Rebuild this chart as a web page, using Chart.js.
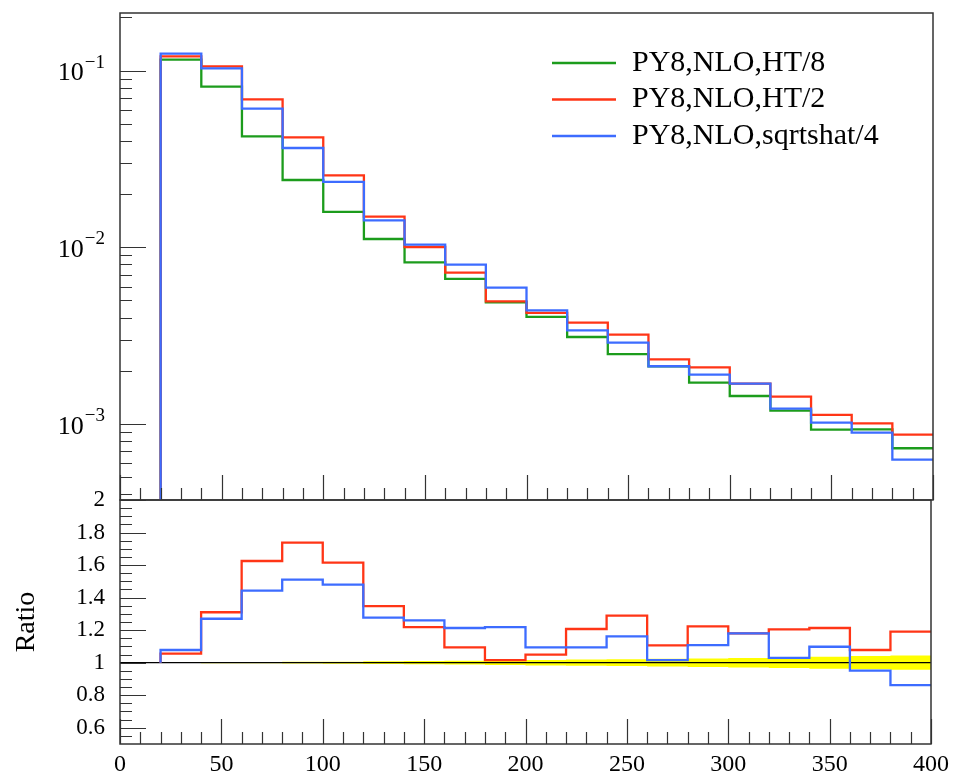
<!DOCTYPE html>
<html>
<head>
<meta charset="utf-8">
<script src="https://cdn.jsdelivr.net/npm/chart.js@4.4.0/dist/chart.umd.min.js"></script>
<style>
    body { margin: 0; background: #fff; }
    #quadro { position: relative; width: 955px; height: 780px; }
    canvas { position: absolute; left: 0; top: 0; }
</style>
</head>
<body>
<div id="quadro">
    <canvas id="razao" width="955" height="780"></canvas>
    <canvas id="principal" width="955" height="780"></canvas>
</div>
<script>
// Bordas dos bins (20 a 400, largura 20)
const binEdges = [20, 40, 60, 80, 100, 120, 140, 160, 180, 200, 220, 240, 260, 280, 300, 320, 340, 360, 380, 400];

const seriesLabels = ['PY8,NLO,HT/8', 'PY8,NLO,HT/2', 'PY8,NLO,sqrtshat/4'];

// Painel de cima (escala log)
const ht8 = [0.1154, 0.0812, 0.04245, 0.02404, 0.01585, 0.01114, 0.00822, 0.00662, 0.00488, 0.00404,
    0.003107, 0.002489, 0.002123, 0.001714, 0.00144, 0.001191, 0.000929, 0.000933, 0.000729];
const ht2 = [0.1205, 0.1057, 0.0688, 0.04194, 0.02556, 0.01493, 0.01004, 0.00719, 0.00494, 0.00425,
    0.003751, 0.003206, 0.002323, 0.002094, 0.001694, 0.001429, 0.001125, 0.001009, 0.000871];
const sqrts4 = [0.1248, 0.103, 0.061, 0.03648, 0.02344, 0.01422, 0.01035, 0.00798, 0.00592, 0.0044,
    0.003391, 0.002891, 0.002123, 0.001905, 0.001694, 0.001222, 0.001019, 0.000894, 0.000629];

// Painel da razao (referencia: HT/8)
const ratioHt2 = [1.055, 1.31, 1.625, 1.738, 1.615, 1.348, 1.219, 1.094, 1.016, 1.049,
    1.207, 1.289, 1.106, 1.223, 1.18, 1.205, 1.213, 1.078, 1.191];
const ratioSqrts4 = [1.078, 1.27, 1.443, 1.51, 1.48, 1.277, 1.26, 1.213, 1.219, 1.094,
    1.094, 1.162, 1.016, 1.108, 1.18, 1.029, 1.098, 0.951, 0.862];
const bandHalf = [0.002, 0.003, 0.004, 0.005, 0.006, 0.008, 0.01, 0.012, 0.014, 0.017,
    0.019, 0.021, 0.024, 0.026, 0.029, 0.033, 0.037, 0.041, 0.044];

// Rotulos dos eixos
const xTickLabels = [0, 50, 100, 150, 200, 250, 300, 350, 400];
const ratioTickLabels = [0.6, 0.8, 1, 1.2, 1.4, 1.6, 1.8, 2];
const logTickLabels = [0.1, 0.01, 0.001];

const cores = ['#1c9c1c', '#ff3516', '#3d6cff'];
const fonte = '"Liberation Serif", "DejaVu Serif", serif';

// Monta os pontos do histograma (degraus) a partir dos valores
function histoPontos(valores, base) {
    const pts = [];
    if (base !== undefined) pts.push({ x: binEdges[0], y: base });
    valores.forEach((v, i) => {
        pts.push({ x: binEdges[i], y: v });
        pts.push({ x: binEdges[i + 1], y: v });
    });
    return pts;
}

function linha(label, pts, cor, ordem, largura) {
    return {
        label: label, data: pts, borderColor: cor, borderWidth: largura || 2.3,
        pointRadius: 0, fill: false, tension: 0, order: ordem,
        borderJoinStyle: 'miter', borderCapStyle: 'butt'
    };
}

// Marcas menores
const xMinor = [];
for (let v = 10; v < 400; v += 10) if (v % 50 !== 0) xMinor.push(v);
const logMinor = [];
[0.0001, 0.001, 0.01, 0.1].forEach(d => { for (let m = 2; m <= 9; m++) logMinor.push(m * d); });
const ratioMinor = [];
for (let i = 11; i < 40; i++) { const v = i * 0.05; if (i % 4 !== 0) ratioMinor.push(v); }

// Plugin: moldura e marcas para dentro
const moldura = {
    id: 'moldura',
    afterDatasetsDraw(chart, args, opts) {
        const ctx = chart.ctx;
        const a = chart.chartArea;
        const xs = chart.scales.x, ys = chart.scales.y;
        ctx.save();
        ctx.strokeStyle = '#333';
        ctx.lineWidth = 1.2;
        ctx.beginPath();
        const marcaY = (v, len) => {
            const p = Math.round(ys.getPixelForValue(v)) + 0.5;
            if (p < a.top - 0.5 || p > a.bottom + 0.5) return;
            ctx.moveTo(a.left, p); ctx.lineTo(a.left + len, p);
        };
        const marcaX = (v, len) => {
            const p = Math.round(xs.getPixelForValue(v)) + 0.5;
            ctx.moveTo(p, a.bottom); ctx.lineTo(p, a.bottom - len);
        };
        opts.yMaior.forEach(v => marcaY(v, 26));
        opts.yMenor.forEach(v => marcaY(v, 12));
        xTickLabels.forEach(v => marcaX(v, 25));
        xMinor.forEach(v => marcaX(v, 12));
        ctx.stroke();
        ctx.lineWidth = 1.5;
        ctx.strokeRect(a.left, a.top, a.right - a.left, a.bottom - a.top);
        ctx.restore();
    }
};

// Plugin: rotulos 10^-k e legenda do painel de cima
const rotulos = {
    id: 'rotulos',
    afterDraw(chart) {
        const ctx = chart.ctx;
        const ys = chart.scales.y;
        ctx.save();
        ctx.fillStyle = '#000';
        ctx.textBaseline = 'middle';
        logTickLabels.forEach(v => {
            const p = ys.getPixelForValue(v);
            const expo = '\u2212' + Math.round(-Math.log10(v));
            ctx.font = '19px ' + fonte;
            ctx.textAlign = 'right';
            const w = ctx.measureText(expo).width;
            ctx.fillText(expo, 105, p - 8);
            ctx.font = '26px ' + fonte;
            ctx.fillText('10', 104 - w, p + 3);
        });
        // legenda
        chart.data.datasets.forEach((ds, i) => {
            const y = 63 + i * 36.5;
            ctx.strokeStyle = ds.borderColor;
            ctx.lineWidth = 2.3;
            ctx.beginPath();
            ctx.moveTo(552, y); ctx.lineTo(616, y);
            ctx.stroke();
            ctx.font = '30px ' + fonte;
            ctx.textAlign = 'left';
            ctx.fillText(ds.label, 632, y);
        });
        ctx.restore();
    }
};

// Grafico principal (distribuicao)
new Chart(document.getElementById('principal').getContext('2d'), {
    type: 'line',
    data: {
        datasets: [
            linha(seriesLabels[0], histoPontos(ht8, 1e-5), cores[0], 2),
            linha(seriesLabels[1], histoPontos(ht2, 1e-5), cores[1], 1),
            linha(seriesLabels[2], histoPontos(sqrts4, 1e-5), cores[2], 0)
        ]
    },
    options: {
        responsive: false,
        animation: false,
        layout: { padding: { left: 0, top: 13, right: 22, bottom: 280 } },
        plugins: {
            legend: { display: false },
            tooltip: { enabled: false },
            moldura: { yMaior: logTickLabels, yMenor: logMinor }
        },
        scales: {
            x: { type: 'linear', min: 0, max: 400, display: false },
            y: {
                type: 'logarithmic', min: 3.715e-4, max: 0.2118,
                grid: { display: false, drawTicks: false },
                border: { display: false },
                ticks: { display: false },
                afterFit: scale => { scale.width = 120; }
            }
        }
    },
    plugins: [moldura, rotulos]
});

// Grafico da razao
const bandaBaixo = bandHalf.map(h => 1 - h);
const bandaAlto = bandHalf.map(h => 1 + h);

new Chart(document.getElementById('razao').getContext('2d'), {
    type: 'line',
    data: {
        datasets: [
            linha(seriesLabels[2], histoPontos(ratioSqrts4, 1), cores[2], 0),
            linha(seriesLabels[1], histoPontos(ratioHt2, 1), cores[1], 1),
            linha('ref', [{ x: 0, y: 1 }, { x: 400, y: 1 }], '#000', 2, 1.3),
            { label: 'banda', data: histoPontos(bandaBaixo), borderWidth: 0, pointRadius: 0, fill: false, order: 4 },
            { label: 'banda+', data: histoPontos(bandaAlto), borderWidth: 0, pointRadius: 0,
              fill: '-1', backgroundColor: '#ffff00', order: 3 }
        ]
    },
    options: {
        responsive: false,
        animation: false,
        layout: { padding: { left: 0, top: 500, right: 22, bottom: 0 } },
        plugins: {
            legend: { display: false },
            tooltip: { enabled: false },
            moldura: { yMaior: ratioTickLabels, yMenor: ratioMinor }
        },
        scales: {
            x: {
                type: 'linear', min: 0, max: 400,
                grid: { display: false, drawTicks: false },
                border: { display: false },
                afterBuildTicks: scale => { scale.ticks = xTickLabels.map(v => ({ value: v })); },
                ticks: { color: '#000', font: { family: fonte, size: 24 }, padding: 6, maxRotation: 0, autoSkip: false },
                afterFit: scale => { scale.height = 36; }
            },
            y: {
                type: 'linear', min: 0.5, max: 2,
                grid: { display: false, drawTicks: false },
                border: { display: false },
                afterBuildTicks: scale => { scale.ticks = ratioTickLabels.map(v => ({ value: v })); },
                ticks: { color: '#000', font: { family: fonte, size: 23 }, padding: 15,
                         callback: v => String(Math.round(v * 10) / 10) },
                title: { display: true, text: 'Ratio', color: '#000', font: { family: fonte, size: 28 }, padding: 10 },
                afterFit: scale => { scale.width = 120; }
            }
        }
    },
    plugins: [moldura]
});
</script>
</body>
</html>
